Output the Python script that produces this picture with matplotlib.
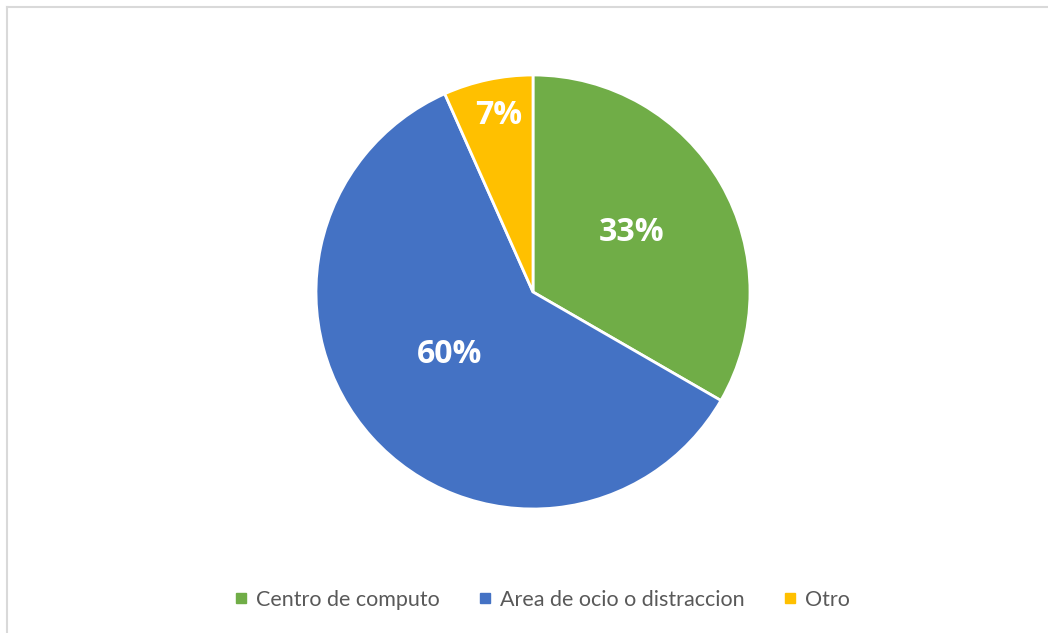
import matplotlib
matplotlib.use('Agg')
import matplotlib.pyplot as plt
import numpy as np
from matplotlib.lines import Line2D

plt.rcParams['font.family'] = ['Lato', 'DejaVu Sans']

categories = ['Centro de computo', 'Area de ocio o distraccion', 'Otro']
values = [5, 9, 1]
pct_labels = ['33%', '60%', '7%']
colors = ['#70AD47', '#4472C4', '#FFC000']

fig = plt.figure(figsize=(10.48, 6.33), dpi=100)

# marco gris (solo arriba e izquierda visibles)
fig.add_artist(Line2D([7/1048, 1], [1 - 7/633, 1 - 7/633], color='#d9d9d9', lw=1.5))
fig.add_artist(Line2D([7/1048, 7/1048], [0, 1 - 7/633], color='#d9d9d9', lw=1.5))

ax = fig.add_axes([316/1048, 124/633, 434/1048, 434/633])
wedges, _ = ax.pie(values, colors=colors, startangle=90, counterclock=False,
                   wedgeprops=dict(edgecolor='white', linewidth=2))
ax.set_xlim(-1, 1)
ax.set_ylim(-1, 1)
ax.set_aspect('equal')

label_r = [0.53, 0.48, 0.83]
label_shift = [1, -5, -1]  # grados
for w, lab, r, d in zip(wedges, pct_labels, label_r, label_shift):
    ang = np.deg2rad((w.theta1 + w.theta2) / 2 + d)
    ax.text(r * np.cos(ang), r * np.sin(ang), lab, ha='center', va='center',
            color='white', fontsize=23, fontweight='bold',
            family=['Open Sans', 'DejaVu Sans'])

handles = [Line2D([], [], marker='s', linestyle='none', markersize=7,
                  markerfacecolor=c, markeredgecolor=c) for c in colors]
fig.legend(handles, categories, loc='center', bbox_to_anchor=(541/1048, 1 - 600/633),
           ncol=3, frameon=False, fontsize=15.5, labelcolor='#595959',
           handletextpad=0.3, columnspacing=1.7, handlelength=0.8)

fig.savefig('out.png', dpi=100, facecolor='white')
